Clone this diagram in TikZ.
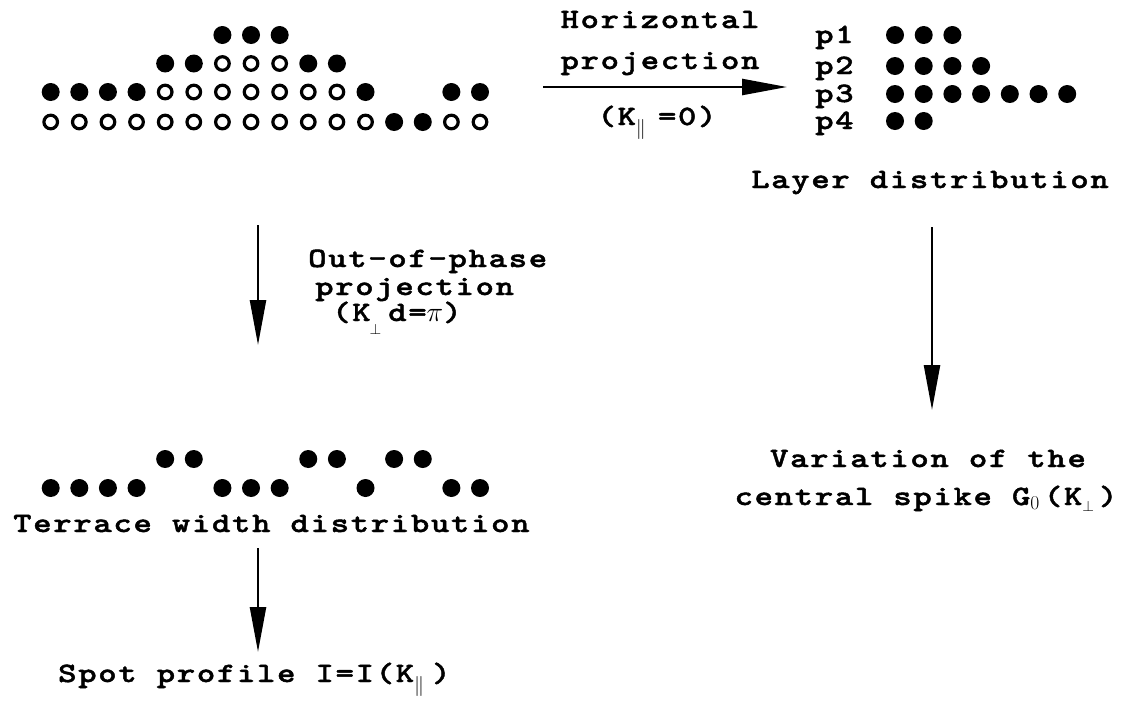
\RequirePackage{fix-cm}
\documentclass[tikz,border=0pt]{standalone}
\usepackage{fontspec}
\newfontfamily\typew{lmmonolt10-bold.otf}[FakeStretch=1.25, LetterSpace=6, FakeBold=1.6]
\usetikzlibrary{arrows.meta}

% lowered index symbols used after K
\newcommand{\lowpar}[1]{\raisebox{#1}{\fontsize{20}{20}\selectfont$\parallel$}}
\newcommand{\lowperp}[1]{\raisebox{#1}{\fontsize{15}{15}\selectfont$\perp$}}

\begin{document}
\begin{tikzpicture}[x=1pt,y=-1pt]
\tikzset{
  lbl/.style={font=\typew\fontsize{28}{30}\selectfont, inner sep=0pt},
  conn/.style={line width=2.4pt, -{Triangle[length=45pt,width=16pt]}},
  ring/.style={draw=black, line width=3.2pt},
}
\useasboundingbox (0,0) rectangle (1136,721);

% ---- surface profile: filled = occupied, ring = empty site ----
\foreach \i in {6,7,8}            \fill ({50.7+28.62*\i},35) circle (9pt);
\foreach \i in {4,5,9,10}         \fill ({50.7+28.62*\i},63.5) circle (9pt);
\foreach \i in {6,7,8}            \draw[ring] ({50.7+28.62*\i},63.5) circle (6.8pt);
\foreach \i in {0,1,2,3,11,14,15} \fill ({50.7+28.62*\i},92) circle (9pt);
\foreach \i in {4,...,10}         \draw[ring] ({50.7+28.62*\i},92) circle (6.8pt);
\foreach \i in {0,...,11,14,15}   \draw[ring] ({50.7+28.62*\i},122) circle (6.8pt);
\foreach \i in {12,13}            \fill ({50.7+28.62*\i},122) circle (9pt);

% ---- layer distribution ----
\foreach \k/\n/\y in {1/3/35,2/4/66,3/7/94,4/2/121}{
  \node[lbl,anchor=base west] (p\k) at (815,{\y+8}) {p\k};
  \foreach \j in {1,...,\n} \fill ({895+28.7*(\j-1)},\y) circle (9pt);
}
\node[lbl,anchor=base] (layer) at (930,188) {Layer distribution};

% ---- terrace width distribution ----
\foreach \i in {4,5,9,10,12,13}          \fill ({50.7+28.62*\i},459) circle (9pt);
\foreach \i in {0,1,2,3,6,7,8,11,14,15}  \fill ({50.7+28.62*\i},488) circle (9pt);
\node[lbl,anchor=base west] (terr) at (13,532) {Terrace width distribution};

% ---- arrow labels and results ----
\node[lbl,anchor=base] (hz1) at (660,28) {Horizontal};
\node[lbl,anchor=base] (hz2) at (660,69) {projection};
\node[lbl,anchor=base] (hz3) at (657,125) {(K\lowpar{-9pt}\kern12pt=0)};

\node[lbl,anchor=base west] (oop1) at (308,267) {Out-of-phase};
\node[lbl,anchor=base west] (oop2) at (315,295) {projection};
\node[lbl,anchor=base west] (oop3) at (332,321) {(K\kern-1pt\lowperp{-13pt}\kern7pt d=$\pi$)};

\node[lbl,anchor=base] (var1) at (928,467) {Variation of the};
\node[lbl,anchor=base] (var2) at (926,505) {central spike G$_0$\kern4pt(K\lowperp{-6pt}\kern5pt)};

\node[lbl,anchor=base west] (spot) at (58,682) {Spot profile I=I(K\lowpar{-9pt}\kern8pt)};

% ---- connectors ----
\coordinate (h0) at (543,87);  \coordinate (h1) at (787,87);
\coordinate (l0) at (258,225); \coordinate (l1) at (258,345);
\coordinate (r0) at (932,227); \coordinate (r1) at (932,410);
\coordinate (b0) at (258,548); \coordinate (b1) at (258,652);
\draw[conn] (h0) -- (h1);
\draw[conn] (l0) -- (l1);
\draw[conn] (r0) -- (r1);
\draw[conn] (b0) -- (b1);
\end{tikzpicture}
\end{document}
